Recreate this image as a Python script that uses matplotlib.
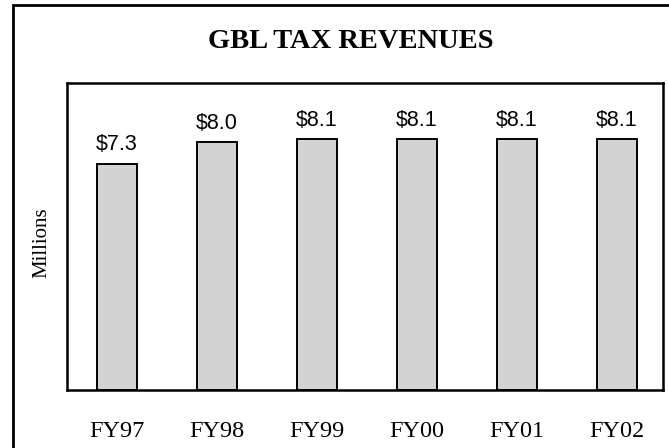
import matplotlib
matplotlib.use("Agg")
import matplotlib.pyplot as plt
from matplotlib.patches import Rectangle

years = ["FY97", "FY98", "FY99", "FY00", "FY01", "FY02"]
revenue = [7.3, 8.0, 8.1, 8.1, 8.1, 8.1]
value_labels = ["$7.3", "$8.0", "$8.1", "$8.1", "$8.1", "$8.1"]

fig = plt.figure(figsize=(6.69, 4.48), dpi=100)
ax = fig.add_axes([0.1001, 0.1295, 0.891, 0.6853])

x = list(range(len(years)))
bars = ax.bar(x, revenue, width=0.4, color="#d3d3d3", edgecolor="black", linewidth=1.4)

# value labels above each bar
for xi, v, lab in zip(x, revenue, value_labels):
    ax.annotate(lab, (xi, v), xytext=(0, 9.5), textcoords="offset points",
                ha="center", va="baseline", fontsize=15.5, family="Liberation Sans")

ax.set_xlim(-0.5, 5.46)
ax.set_ylim(0, 9.9)
ax.set_yticks([])
ax.set_xticks(x, years)
ax.tick_params(axis="x", length=0, pad=33.8)
for t in ax.get_xticklabels():
    t.set_va("baseline")
    t.set_fontsize(17.5)
    t.set_family("Liberation Serif")
for s in ax.spines.values():
    s.set_linewidth(1.8)

ax.set_ylabel("Millions", fontsize=15, family="Liberation Serif")
ax.yaxis.set_label_coords(-0.026, 0.479)

fig.text(351 / 669, 1 - 42 / 448, "GBL TAX REVENUES", ha="center", va="center",
         fontsize=20.5, fontweight="bold", family="Liberation Serif")

# outer frame, only top and left edges fall inside the image
border = Rectangle((13 / 669, -0.2), 1.2, 1.2 - 5 / 448, transform=fig.transFigure,
                   fill=False, edgecolor="black", linewidth=2, clip_on=False)
fig.patches.append(border)

fig.savefig("out.png", dpi=100)
